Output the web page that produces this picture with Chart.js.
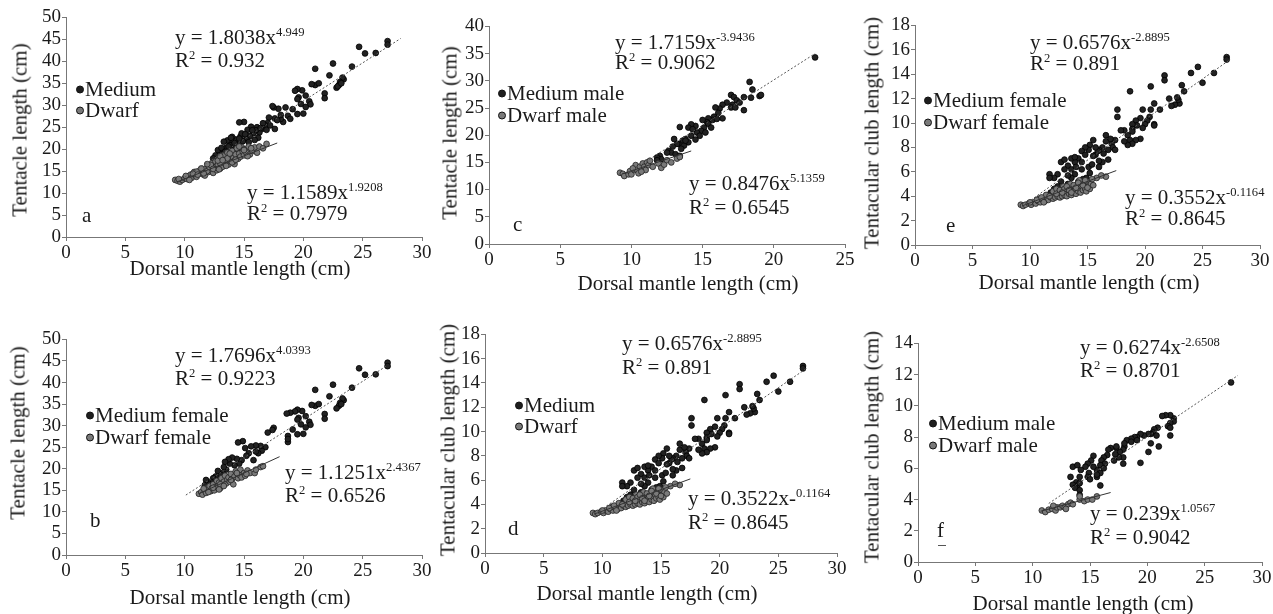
<!DOCTYPE html>
<html>
<head>
<meta charset="utf-8">
<script src="https://cdn.jsdelivr.net/npm/chart.js@4"></script>
<style>
body { margin:0; background:#fff; width:1273px; height:614px; overflow:hidden; position:relative; }
.lbl { position:absolute; white-space:nowrap; transform:translateY(-50%); font:21px 'Liberation Serif', serif; line-height:1; color:#1a1a1a; }
.ttl { transform:translate(-50%,-50%); }
.yttl { transform:translate(-50%,-50%) rotate(-90deg); }
.lbl sup { font-size:0.6em; vertical-align:0.62em; line-height:0; }
.dot { display:inline-block; width:8px; height:8px; border-radius:50%; margin-right:1px; vertical-align:2px; border:1px solid #111; box-sizing:border-box; }
.dark { background:#1e1e1e; }
.grey { background:#7a7a7a; }
</style>
</head>
<body>
<script>
// ---- data (x = dorsal mantle length, y = tentacle / club length, cm)
const aMedium = [[27.1,44.6],[27.1,43.8],[26.1,41.9],[25.2,41.8],[24.7,43.3],[24.1,38.8],[22.5,39.5],[22.2,36.8],[21.0,38.3],[23.4,35.9],[23.3,36.3],[23.1,35.3],[23.0,34.6],[22.8,34.0],[22.9,34.3],[23.2,35.0],[21.8,32.7],[21.8,31.6],[21.0,34.6],[21.3,35.0],[20.7,34.8],[20.5,30.9],[20.6,30.2],[20.2,32.2],[19.9,33.4],[19.5,33.7],[19.3,33.3],[19.6,31.8],[19.8,30.3],[20.0,28.1],[20.2,29.6],[19.1,29.1],[19.5,31.4],[19.5,28.0],[18.5,29.5],[18.7,27.6],[18.9,26.9],[18.3,26.2],[18.1,26.9],[17.9,29.2],[18.1,27.8],[17.6,27.0],[17.5,29.5],[17.4,29.8],[17.6,24.6],[17.1,27.2],[17.0,26.0],[16.8,25.4],[16.6,25.9],[16.5,24.6],[16.3,23.8],[16.1,25.0],[16.0,24.3],[15.8,23.6],[15.6,25.1],[15.5,23.0],[15.3,24.4],[15.2,22.3],[15.0,26.2],[14.6,26.1],[14.9,21.8],[14.7,22.9],[14.5,21.0],[14.3,22.2],[14.1,20.4],[14.0,22.8],[13.8,21.5],[13.6,22.0],[13.5,20.3],[13.3,21.7],[13.2,19.6],[13.0,19.0],[12.8,19.8],[14.4,19.6],[15.4,21.6],[16.2,22.6],[16.9,24.4],[13.9,20.9],[14.8,23.6],[15.9,22.1],[12.6,18.6],[13.1,20.3],[13.4,19.4],[13.7,20.6],[14.2,21.4],[14.6,22.4],[15.1,23.4],[15.7,24.3],[16.4,24.8],[17.2,25.4],[17.8,26.6],[12.4,17.9],[13.9,22.6]]
const aDwarf = [[9.2,13.0],[9.4,12.8],[9.6,12.6],[9.8,13.0],[10.0,13.4],[10.2,13.2],[10.3,13.8],[10.5,14.2],[10.6,13.5],[10.8,14.8],[10.9,14.0],[11.0,13.7],[11.2,14.6],[11.3,15.2],[11.5,14.3],[11.6,15.0],[11.7,14.0],[11.8,15.6],[12.0,16.2],[12.0,14.8],[12.2,15.3],[12.3,16.8],[12.4,14.6],[12.5,15.8],[12.6,17.2],[12.7,15.2],[12.8,16.4],[12.9,18.0],[13.0,15.6],[13.1,17.0],[13.2,16.0],[13.3,18.5],[13.4,16.8],[13.5,17.6],[13.6,19.2],[13.7,16.5],[13.8,18.2],[13.9,17.2],[14.0,19.6],[14.1,18.0],[14.2,16.6],[14.3,18.8],[14.4,20.2],[14.5,17.8],[14.6,19.0],[14.7,18.3],[14.8,20.5],[14.9,19.4],[15.0,18.6],[15.1,20.0],[15.2,19.2],[15.4,20.6],[15.5,18.8],[15.7,19.6],[15.9,20.4],[16.1,19.2],[16.3,20.6],[16.6,20.2],[16.9,21.2],[11.0,14.9],[11.9,15.0],[12.1,15.9],[13.0,16.8],[13.6,17.9],[14.2,17.4],[9.5,13.2],[10.1,13.9],[10.4,13.0],[10.7,14.4],[11.1,14.2],[11.4,15.6],[11.6,14.5],[12.2,16.4],[12.4,15.5],[12.8,17.4],[13.0,18.4],[13.2,17.5],[13.5,16.2],[13.8,19.0],[14.0,17.0],[14.3,17.6],[14.6,20.6],[15.0,19.8],[15.3,18.4],[15.6,20.2],[12.9,15.4],[11.9,16.6]]
const aMedFit = [[10.0,13.6],[28.2,45.2]]
const aDwarfFit = [[9.4,12.6],[17.8,21.4]]

const bMedium = [[27.1,44.6],[27.1,43.8],[26.1,41.9],[25.2,41.8],[24.7,43.3],[24.1,38.8],[22.5,39.5],[22.2,36.8],[21.0,38.3],[23.4,35.9],[23.3,36.3],[23.1,35.3],[23.0,34.6],[22.8,34.0],[23.2,35.0],[21.8,32.7],[21.8,31.6],[21.0,34.6],[21.3,35.0],[20.7,34.8],[20.5,30.9],[20.6,30.2],[20.2,32.2],[19.9,33.4],[19.5,33.7],[19.3,33.3],[19.6,31.8],[19.8,30.3],[20.0,28.1],[20.2,29.6],[19.1,29.1],[19.5,31.4],[19.5,28.0],[18.7,27.6],[18.7,26.2],[18.7,26.9],[18.9,33.0],[18.6,32.8],[17.5,29.5],[17.4,29.0],[17.0,28.4],[16.8,25.0],[16.5,24.2],[16.4,25.3],[16.2,23.6],[16.0,24.0],[16.0,25.4],[15.8,22.0],[15.6,25.2],[15.4,23.6],[15.2,23.0],[15.1,24.8],[14.9,26.4],[14.5,26.1],[14.8,22.0],[14.6,21.2],[14.4,22.3],[14.2,20.8],[14.0,22.6],[13.8,21.2],[13.7,22.2],[13.5,19.8],[13.4,21.6],[13.3,20.4],[13.2,19.0],[13.0,18.6],[12.8,19.5],[12.6,18.2],[12.4,17.8],[12.2,17.0],[12.0,16.6],[11.8,17.4],[11.7,16.2]]
const bDwarf = [[11.2,14.2],[11.4,14.6],[11.5,14.0],[11.7,15.0],[11.8,14.4],[11.9,15.6],[12.0,15.2],[12.1,16.0],[12.2,14.8],[12.3,15.5],[12.4,16.4],[12.5,15.0],[12.6,15.8],[12.7,17.2],[12.8,16.0],[12.9,16.8],[13.0,15.5],[13.1,17.8],[13.2,16.2],[13.3,17.0],[13.4,18.4],[13.5,16.6],[13.6,17.5],[13.7,18.0],[13.8,17.0],[13.9,18.8],[14.0,17.6],[14.1,16.4],[14.2,18.2],[14.3,19.4],[14.5,17.8],[14.6,18.6],[14.7,19.8],[14.8,18.0],[15.0,19.0],[15.1,18.4],[15.3,19.6],[15.5,19.0],[15.9,19.0],[16.0,19.8],[16.4,20.4],[16.6,20.6],[13.0,16.4],[12.4,15.6],[11.6,15.4],[12.0,14.6],[12.9,15.2],[13.3,16.0],[13.9,17.4],[14.4,19.0],[15.2,18.8]]
const bMedFit = [[10.1,13.9],[27.1,44.0]]
const bDwarfFit = [[11.2,14.2],[18.0,22.8]]

const cMedium = [[22.9,34.3],[18.3,29.8],[18.5,28.4],[19.0,27.2],[19.1,27.4],[17.9,27.0],[18.4,26.9],[17.9,24.6],[17.0,27.4],[17.2,27.0],[17.4,26.4],[17.6,26.0],[17.1,25.6],[17.0,25.1],[17.3,25.1],[16.7,26.0],[16.4,25.6],[16.2,24.9],[16.1,24.1],[15.9,25.1],[16.4,23.1],[15.8,23.4],[15.7,22.8],[15.4,23.1],[15.3,22.4],[15.4,22.1],[15.6,21.4],[15.1,21.4],[14.9,20.8],[15.2,20.5],[14.5,21.7],[14.6,20.5],[14.8,19.9],[14.2,22.0],[14.0,21.4],[14.3,21.1],[14.2,19.9],[13.8,19.3],[14.0,18.7],[13.6,19.0],[13.3,18.4],[13.7,18.1],[13.8,19.0],[13.4,21.5],[13.0,19.3],[13.2,18.4],[12.9,17.9],[12.6,17.1],[12.8,16.8],[12.5,16.8],[13.1,16.5],[13.4,16.2],[12.0,16.2],[12.1,15.6],[11.8,15.9],[11.8,15.4],[13.5,17.5],[14.5,19.2],[15.0,22.8],[16.0,23.0]]
const cDwarf = [[9.2,13.1],[9.4,12.9],[9.5,12.5],[9.8,12.8],[9.9,13.4],[10.0,12.8],[10.2,13.6],[10.3,14.5],[10.4,13.6],[10.5,13.0],[10.6,14.2],[10.8,14.8],[10.9,14.2],[11.0,13.6],[11.1,15.0],[11.2,14.5],[11.5,14.2],[11.9,14.8],[12.1,14.0],[12.3,14.6],[12.5,15.4],[12.8,15.0],[13.2,15.7],[13.4,16.0],[10.1,13.9],[10.7,13.3],[11.3,15.3]]
const cMedFit = [[9.6,12.8],[22.9,35.0]]
const cDwarfFit = [[9.4,12.9],[14.2,17.1]]

// club length panels d and e show the same cloud
const clubMedium = [[27.1,15.4],[27.1,15.2],[26.0,14.1],[25.0,13.3],[24.6,14.6],[24.0,14.1],[23.4,12.6],[23.2,13.1],[23.0,11.6],[22.9,11.9],[22.6,11.5],[22.3,11.4],[22.8,12.1],[22.1,12.0],[21.7,13.9],[21.7,13.5],[21.3,11.1],[20.8,11.6],[20.5,13.0],[18.7,12.6],[20.5,11.1],[20.4,10.5],[20.8,9.9],[20.8,9.8],[20.2,10.2],[20.0,9.9],[19.8,9.6],[19.6,10.4],[19.2,10.2],[19.3,9.8],[18.9,9.9],[19.8,11.1],[18.9,9.5],[18.9,9.3],[18.5,9.0],[18.7,8.6],[19.6,8.7],[19.2,8.6],[18.9,8.3],[18.5,8.2],[18.2,8.5],[18.2,9.4],[17.9,9.4],[17.6,11.1],[17.6,10.5],[17.4,8.6],[17.1,8.3],[17.2,8.0],[16.8,7.8],[17.4,7.8],[16.6,8.5],[16.3,8.0],[16.0,7.8],[15.7,7.4],[15.9,7.7],[16.8,7.0],[16.3,6.8],[16.0,6.9],[16.0,6.4],[16.6,9.0],[15.5,8.6],[15.2,8.2],[15.1,7.8],[14.8,8.0],[14.5,7.7],[14.8,7.4],[14.2,7.1],[14.5,6.8],[13.9,6.8],[13.6,7.1],[13.3,6.5],[13.0,6.2],[13.6,6.2],[15.1,6.4],[15.2,5.9],[14.9,5.5],[14.5,6.2],[13.9,5.8],[13.6,5.5],[13.3,5.7],[14.2,5.2],[14.6,5.4],[12.7,6.8],[12.4,5.8],[12.1,5.5],[12.7,5.2],[11.7,5.8],[11.7,5.5],[12.1,4.6],[11.8,4.3],[13.0,7.0],[13.9,7.2],[15.7,8.0],[15.5,7.3],[12.4,4.8],[13.3,5.0],[14.5,5.0],[14.0,6.4],[15.4,6.6],[16.4,7.5],[17.0,8.7]]
const clubDwarf = [[9.2,3.3],[9.4,3.2],[9.6,3.3],[9.9,3.4],[10.1,3.3],[10.3,3.5],[10.5,3.4],[10.7,3.6],[10.9,3.5],[11.1,3.7],[11.3,3.6],[11.5,3.8],[11.6,3.7],[11.8,3.9],[12.0,3.8],[12.1,4.1],[12.2,3.9],[12.4,4.0],[12.5,4.2],[12.6,3.9],[12.7,4.3],[12.8,4.0],[12.9,4.5],[13.0,4.1],[13.1,4.3],[13.2,4.0],[13.3,4.6],[13.4,4.2],[13.5,4.4],[13.6,4.1],[13.7,4.7],[13.8,4.3],[13.9,4.5],[14.0,4.2],[14.1,4.9],[14.2,4.4],[14.3,4.6],[14.4,4.3],[14.5,4.8],[14.6,4.5],[14.7,5.0],[14.8,4.6],[14.9,4.4],[15.0,5.2],[15.1,4.8],[15.2,4.6],[15.3,5.0],[15.5,4.9],[15.8,5.5],[16.6,5.6],[12.0,4.4],[12.3,4.6],[12.9,4.8],[13.5,5.0],[14.3,5.3],[11.4,4.1],[10.8,3.8],[10.0,3.5],[10.6,3.7],[11.0,3.9],[11.2,3.5],[11.7,4.0],[12.3,4.2],[12.6,4.5],[13.0,4.6],[13.2,4.8],[13.4,4.5],[13.8,4.9],[14.0,4.7],[14.2,5.1],[14.6,4.9],[14.8,5.3],[15.0,4.7],[15.4,5.4],[16.2,5.7],[13.6,4.3],[12.8,4.3]]
const clubMedFit = [[9.5,3.3],[27.4,15.2]]
const clubDwarfFit = [[9.3,3.2],[17.5,6.1]]

const fMedium = [[27.3,11.5],[22.3,9.2],[22.3,9.0],[22.0,9.4],[22.0,8.9],[21.8,8.7],[22.0,8.6],[22.0,8.1],[21.6,9.4],[21.3,9.35],[20.9,8.6],[20.6,8.5],[20.5,8.3],[20.3,8.2],[20.8,8.1],[20.1,8.2],[19.7,8.1],[19.4,8.2],[19.1,8.0],[18.9,8.0],[18.6,7.9],[18.2,7.8],[19.1,7.8],[21.0,7.4],[20.1,7.05],[20.3,7.6],[19.4,6.35],[18.0,7.4],[17.9,7.2],[17.6,7.05],[17.3,7.3],[17.3,7.4],[18.0,7.6],[18.6,7.7],[17.9,6.7],[17.9,6.3],[17.5,6.7],[17.2,6.9],[17.1,6.5],[16.8,7.3],[16.6,7.2],[16.5,6.85],[16.2,6.7],[16.0,6.5],[16.3,6.3],[15.9,6.2],[16.2,6.0],[15.6,5.9],[15.9,5.7],[15.6,5.45],[15.3,6.8],[15.1,6.5],[14.8,6.3],[14.6,6.1],[14.2,5.9],[15.3,6.1],[14.9,5.7],[14.8,5.45],[14.1,5.45],[13.8,5.1],[13.9,4.9],[13.5,4.95],[14.1,5.05],[15.9,4.9],[15.0,5.3],[13.3,5.45],[13.7,4.75],[13.5,6.1],[13.9,6.2],[15.6,5.6],[14.1,4.6],[14.1,4.3]]
const fDwarf = [[10.8,3.3],[11.1,3.2],[11.4,3.35],[11.7,3.4],[12.0,3.3],[12.1,3.5],[12.4,3.5],[12.6,3.6],[12.8,3.5],[13.1,3.7],[13.3,3.8],[13.5,3.7],[14.1,4.0],[14.5,3.9],[14.8,4.0],[15.2,4.0],[15.6,4.2],[11.8,3.6],[12.9,3.4],[14.1,4.2]]
const fMedFit = [[11.4,3.75],[27.9,11.95]]
const fDwarfFit = [[10.7,3.25],[16.8,4.45]]

const xTicksStep = 5
const tickFont = { family: "'Liberation Serif', serif", size: 19 }

function txt(html, x, y, cls) {
    const d = document.createElement('div')
    d.className = 'lbl ' + (cls || '')
    d.innerHTML = html
    d.style.left = x + 'px'
    d.style.top = y + 'px'
    document.body.appendChild(d)
    return d
}

function panel(p) {
    const padL = 52, padT = 12, padR = 12, padB = 30
    const w = p.right - p.left + padL + padR
    const h = p.bottom - p.top + padT + padB
    const c = document.createElement('canvas')
    c.width = w
    c.height = h
    c.style.cssText = `position:absolute;left:${p.left - padL}px;top:${p.top - padT}px;width:${w}px;height:${h}px`
    document.body.appendChild(c)

    const axis = (max, step, fit) => ({
        type: 'linear', min: 0, max: max,
        afterFit: fit,
        ticks: { stepSize: step, font: tickFont, color: '#1a1a1a', padding: 1, autoSkip: false },
        grid: { drawOnChartArea: false, drawTicks: true, tickLength: 4, color: '#777' },
        border: { color: '#777', width: 1 }
    })

    new Chart(c, {
        type: 'scatter',
        data: {
            datasets: [
                { data: p.medFit, showLine: true, borderColor: '#555', borderDash: [2, 2], borderWidth: 1, pointRadius: 0, order: 0 },
                { data: p.dwarfFit, showLine: true, borderColor: '#333', borderWidth: 1, pointRadius: 0, order: 0 },
                { label: 'Medium', data: p.medium, backgroundColor: '#222', borderColor: '#000', borderWidth: 0.8, pointRadius: 2.9, order: 2 },
                { label: 'Dwarf', data: p.dwarf, backgroundColor: '#7a7a7a', borderColor: '#222', borderWidth: 0.8, pointRadius: 2.9, order: 1 }
            ]
        },
        options: {
            responsive: false,
            animation: false,
            layout: { padding: { top: padT, right: padR, left: 0, bottom: 0 } },
            plugins: { legend: { display: false }, tooltip: { enabled: false } },
            scales: {
                x: axis(p.xMax, xTicksStep, s => { s.height = padB }),
                y: axis(p.yMax, p.yStep, s => { s.width = padL })
            }
        }
    })

    // titles, legend, equations, letter
    txt(p.yTitle, p.yTitlePos[0], p.yTitlePos[1], 'yttl')
    txt('Dorsal mantle length (cm)', p.xTitlePos[0], p.xTitlePos[1], 'ttl')
    txt('<span class="dot dark"></span>' + p.legend[0], p.legendPos[0], p.legendPos[1])
    txt('<span class="dot grey"></span>' + p.legend[1], p.legendPos[0], p.legendPos[2])
    txt(p.eq1[0], p.eq1Pos[0], p.eq1Pos[1])
    txt(p.eq1[1], p.eq1Pos[0], p.eq1Pos[2])
    txt(p.eq2[0], p.eq2Pos[0], p.eq2Pos[1])
    txt(p.eq2[1], p.eq2Pos[0], p.eq2Pos[2])
    txt(p.letter, p.letterPos[0], p.letterPos[1])
}

const tl = 'Tentacle length (cm)'
const cl = 'Tentacular club length (cm)'

panel({ left: 66, right: 422, top: 17, bottom: 237, xMax: 30, yMax: 50, yStep: 5,
    medium: aMedium, dwarf: aDwarf, medFit: aMedFit, dwarfFit: aDwarfFit,
    yTitle: tl, yTitlePos: [20, 130], xTitlePos: [240, 268],
    legend: ['Medium', 'Dwarf'], legendPos: [76, 89, 110],
    eq1: ['y = 1.8038x<sup>4.949</sup>', 'R<sup>2</sup> = 0.932'], eq1Pos: [175, 37, 60],
    eq2: ['y = 1.1589x<sup>1.9208</sup>', 'R<sup>2</sup> = 0.7979'], eq2Pos: [247, 192, 213],
    letter: 'a', letterPos: [82, 215] })

panel({ left: 66, right: 422, top: 339, bottom: 555, xMax: 30, yMax: 50, yStep: 5,
    medium: bMedium, dwarf: bDwarf, medFit: bMedFit, dwarfFit: bDwarfFit,
    yTitle: tl, yTitlePos: [18, 433], xTitlePos: [240, 597],
    legend: ['Medium female', 'Dwarf female'], legendPos: [86, 415, 437],
    eq1: ['y = 1.7696x<sup>4.0393</sup>', 'R<sup>2</sup> = 0.9223'], eq1Pos: [175, 355, 378],
    eq2: ['y = 1.1251x<sup>2.4367</sup>', 'R<sup>2</sup> = 0.6526'], eq2Pos: [285, 472, 495],
    letter: 'b', letterPos: [90, 520] })

panel({ left: 489, right: 845, top: 26, bottom: 244, xMax: 25, yMax: 40, yStep: 5,
    medium: cMedium, dwarf: cDwarf, medFit: cMedFit, dwarfFit: cDwarfFit,
    yTitle: tl, yTitlePos: [450, 133], xTitlePos: [688, 283],
    legend: ['Medium male', 'Dwarf male'], legendPos: [498, 93, 115],
    eq1: ['y = 1.7159x<sup>-3.9436</sup>', 'R<sup>2</sup> = 0.9062'], eq1Pos: [615, 42, 62],
    eq2: ['y = 0.8476x<sup>5.1359</sup>', 'R<sup>2</sup> = 0.6545'], eq2Pos: [689, 183, 207],
    letter: 'c', letterPos: [513, 224] })

panel({ left: 485, right: 837, top: 334, bottom: 553, xMax: 30, yMax: 18, yStep: 2,
    medium: clubMedium, dwarf: clubDwarf, medFit: clubMedFit, dwarfFit: clubDwarfFit,
    yTitle: cl, yTitlePos: [448, 440], xTitlePos: [647, 593],
    legend: ['Medium', 'Dwarf'], legendPos: [515, 405, 426],
    eq1: ['y = 0.6576x<sup>-2.8895</sup>', 'R<sup>2</sup> = 0.891'], eq1Pos: [622, 343, 367],
    eq2: ['y = 0.3522x-<sup>0.1164</sup>', 'R<sup>2</sup> = 0.8645'], eq2Pos: [688, 498, 522],
    letter: 'd', letterPos: [508, 528] })

panel({ left: 915, right: 1260, top: 25, bottom: 245, xMax: 30, yMax: 18, yStep: 2,
    medium: clubMedium, dwarf: clubDwarf, medFit: clubMedFit, dwarfFit: clubDwarfFit,
    yTitle: cl, yTitlePos: [872, 133], xTitlePos: [1089, 282],
    legend: ['Medium female', 'Dwarf female'], legendPos: [924, 100, 122],
    eq1: ['y = 0.6576x<sup>-2.8895</sup>', 'R<sup>2</sup> = 0.891'], eq1Pos: [1030, 42, 63],
    eq2: ['y = 0.3552x<sup>-0.1164</sup>', 'R<sup>2</sup> = 0.8645'], eq2Pos: [1125, 197, 218],
    letter: 'e', letterPos: [946, 225] })

panel({ left: 918, right: 1262, top: 343, bottom: 562, xMax: 30, yMax: 14, yStep: 2,
    medium: fMedium, dwarf: fDwarf, medFit: fMedFit, dwarfFit: fDwarfFit,
    yTitle: cl, yTitlePos: [872, 447], xTitlePos: [1083, 603],
    legend: ['Medium male', 'Dwarf male'], legendPos: [929, 423, 445],
    eq1: ['y = 0.6274x<sup>-2.6508</sup>', 'R<sup>2</sup> = 0.8701'], eq1Pos: [1080, 347, 370],
    eq2: ['y = 0.239x<sup>1.0567</sup>', 'R<sup>2</sup> = 0.9042'], eq2Pos: [1090, 513, 537],
    letter: 'f', letterPos: [937, 530] })

// short mark under the "f"
const mark = document.createElement('div')
mark.style.cssText = 'position:absolute;left:938px;top:545px;width:8px;height:1px;background:#555'
document.body.appendChild(mark)
</script>
</body>
</html>
